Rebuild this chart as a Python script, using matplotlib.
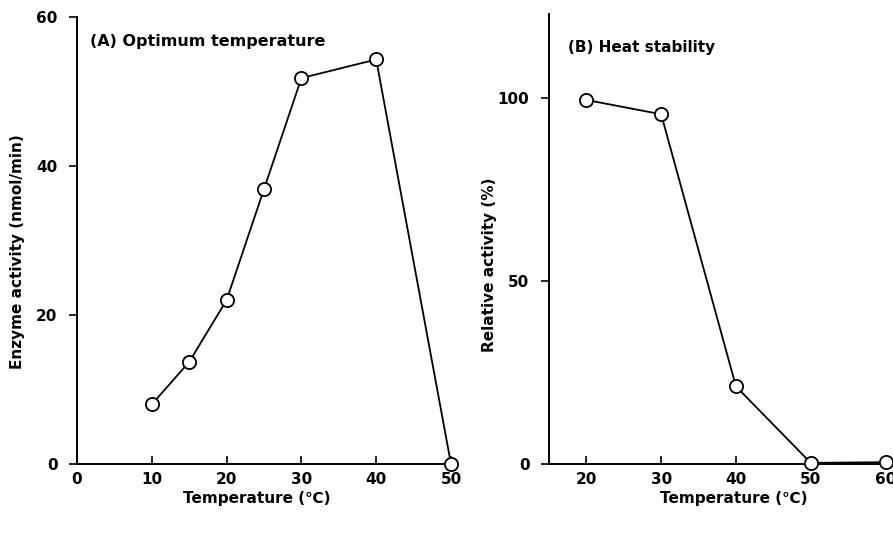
import matplotlib
matplotlib.use("Agg")
import matplotlib.pyplot as plt

# Panel A: optimum temperature
temp_a = [10, 15, 20, 25, 30, 40, 50]
activity_a = [8.0, 13.7, 22.0, 36.9, 51.8, 54.3, 0.0]
xticks_a = [0, 10, 20, 30, 40, 50]
yticks_a = [0, 20, 40, 60]

# Panel B: heat stability
temp_b = [20, 30, 40, 50, 60]
activity_b = [99.5, 95.6, 21.2, 0.3, 0.5]
xticks_b = [20, 30, 40, 50, 60]
yticks_b = [0, 50, 100]

plt.rcParams['font.family'] = ['DejaVu Sans']
plt.rcParams['font.weight'] = 'bold'

fig = plt.figure(figsize=(8.93, 5.35), dpi=100)

ax1 = fig.add_axes([77/893, 1-464/535, (451-77)/893, (464-17)/535])
ax2 = fig.add_axes([549/893, 1-464/535, (893-549)/893, (464-14)/535])

line_kw = dict(color='black', lw=1.3, marker='o', markersize=9.5,
               markerfacecolor='white', markeredgecolor='black',
               markeredgewidth=1.3, clip_on=False, zorder=5)

ax1.plot(temp_a, activity_a, **line_kw)
ax1.set_xlim(0, 50)
ax1.set_ylim(0, 60)
ax1.set_xticks(xticks_a)
ax1.set_yticks(yticks_a)
ax1.set_xlabel('Temperature (℃)', fontsize=11, fontweight='bold')
ax1.set_ylabel('Enzyme activity (nmol/min)', fontsize=11, fontweight='bold')
ax1.xaxis.set_label_coords(0.48, -0.06)
ax1.yaxis.set_label_coords(-0.139, 0.474)
ax1.text(0.035, 0.945, '(A) Optimum temperature', transform=ax1.transAxes,
         fontsize=11.5, fontweight='bold', va='center', ha='left')

ax2.plot(temp_b, activity_b, **line_kw)
ax2.set_xlim(15, 61)
ax2.set_ylim(0, 123)
ax2.set_xticks(xticks_b)
ax2.set_yticks(yticks_b)
ax2.set_xlabel('Temperature (℃)', fontsize=11, fontweight='bold')
ax2.set_ylabel('Relative activity (%)', fontsize=11, fontweight='bold')
ax2.xaxis.set_label_coords(0.538, -0.06)
ax2.yaxis.set_label_coords(-0.151, 0.442)
ax2.text(0.055, 0.925, '(B) Heat stability', transform=ax2.transAxes,
         fontsize=11, fontweight='bold', va='center', ha='left')

for ax in (ax1, ax2):
    for s in ('top', 'right'):
        ax.spines[s].set_visible(False)
    for s in ('left', 'bottom'):
        ax.spines[s].set_linewidth(1.4)
    ax.tick_params(axis='x', direction='in', length=6, width=1.2, pad=6, labelsize=11)
    ax.tick_params(axis='y', direction='out', length=6, width=1.2, pad=8, labelsize=11)
    for lab in ax.get_xticklabels() + ax.get_yticklabels():
        lab.set_fontweight('bold')

fig.savefig('out.png', dpi=100)
